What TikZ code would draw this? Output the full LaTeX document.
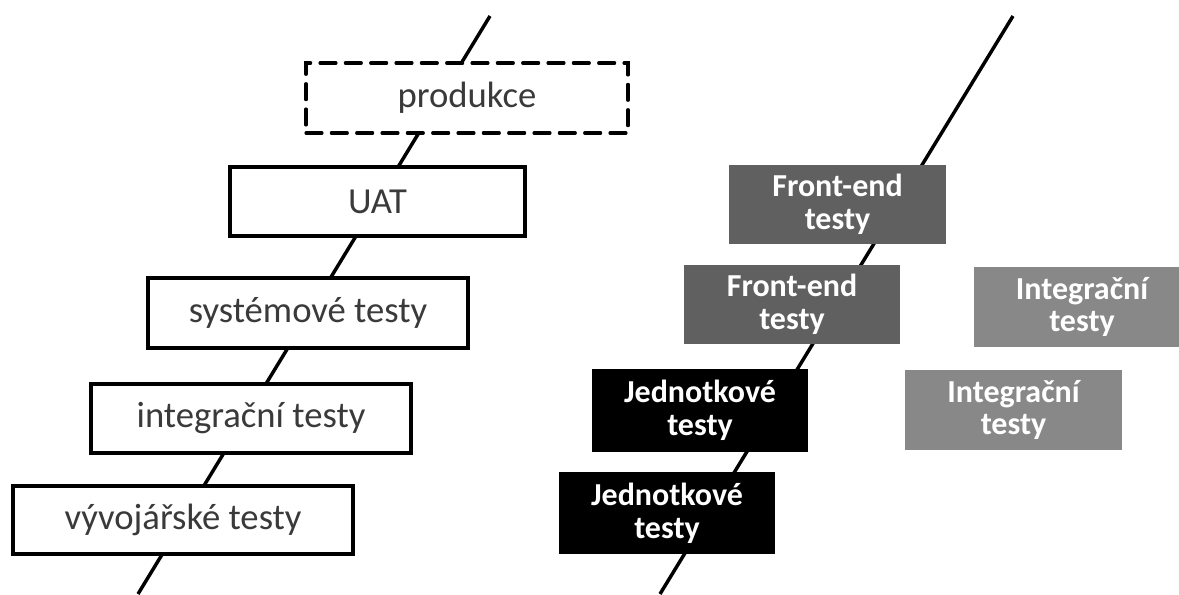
\documentclass[tikz,border=0pt]{standalone}
\usepackage{fontspec}
\setmainfont{Carlito}
\definecolor{labelgray}{HTML}{3A3A3A}
\definecolor{frontgray}{HTML}{606060}
\definecolor{integgray}{HTML}{888888}
\begin{document}
\begin{tikzpicture}[x=0.75pt,y=-0.75pt,
  stage/.style={draw=black, line width=2.3pt, fill=white, inner sep=0pt,
    text=labelgray, font=\fontsize{27.5}{32}\selectfont},
  plannedstage/.style={stage, dashed, dash pattern=on 12pt off 7pt, line cap=round},
  testbox/.style={inner sep=0pt, text=white, align=center,
    font=\fontsize{24}{24.5}\selectfont\bfseries},
  axis/.style={line width=2.6pt}]
\clip (0,0) rectangle (1179,594);
\fill[white] (0,0) rectangle (1179,594);

% left pipeline: one stage after another along the diagonal
\coordinate (ltop) at (490,16);
\coordinate (lbot) at (138,594);
\draw[axis] (lbot) -- (ltop);

\node[plannedstage, minimum width=0.75pt*322, minimum height=0.75pt*70] (prod) at (467,98) {produkce};
\node[stage, minimum width=0.75pt*295, minimum height=0.75pt*69] (uat) at (377.5,201.5) {UAT};
\node[stage, minimum width=0.75pt*320, minimum height=0.75pt*70] (sys) at (308,313) {systémové testy};
\node[stage, minimum width=0.75pt*320, minimum height=0.75pt*69] (integ) at (251,418.5) {integrační testy};
\node[stage, minimum width=0.75pt*340, minimum height=0.75pt*68] (dev) at (183,520) {vývojářské testy};

% right pipeline with the test suites placed beside it
\coordinate (rtop) at (1013,16);
\coordinate (rbot) at (660,594);
\draw[axis] (rbot) -- (rtop);

\node[testbox, fill=frontgray, minimum width=0.75pt*217, minimum height=0.75pt*79] (fe1) at (837.5,204.5) {Front-end\\testy};
\node[testbox, fill=frontgray, minimum width=0.75pt*216, minimum height=0.75pt*79] (fe2) at (792,304.5) {Front-end\\testy};
\node[testbox, fill=black, minimum width=0.75pt*216, minimum height=0.75pt*83] (unit1) at (700,410.5) {Jednotkové\\testy};
\node[testbox, fill=black, minimum width=0.75pt*216, minimum height=0.75pt*82] (unit2) at (667,513) {Jednotkové\\testy};
\node[testbox, fill=integgray, minimum width=0.75pt*216, minimum height=0.75pt*80] (int1) at (1082,307) {Integrační\\testy};
\node[testbox, fill=integgray, minimum width=0.75pt*217, minimum height=0.75pt*80] (int2) at (1013.5,410) {Integrační\\testy};
\end{tikzpicture}
\end{document}
